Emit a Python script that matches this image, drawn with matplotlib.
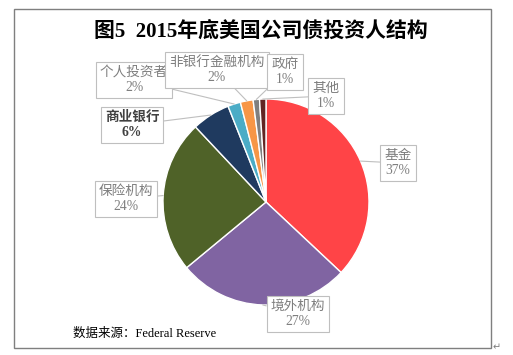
import numpy as np
import matplotlib.pyplot as plt
from matplotlib.patches import Rectangle

plt.rcParams['font.family'] = ['Liberation Serif', 'Noto Sans CJK SC', 'DejaVu Sans']

labels = ['基金', '境外机构', '保险机构', '商业银行', '个人投资者', '非银行金融机构', '政府', '其他']
shares = [37, 27, 24, 6, 2, 2, 1, 1]
colors = ['#FF4447', '#8064A2', '#4F6228', '#1F3A5F', '#4BACC6', '#F79646', '#7F7F7F', '#632523']

# label box centres in pixel coords (origin top-left)
box_pos = [(398, 163), (298, 314), (126, 199), (132, 125),
           (134, 80), (217, 70), (285, 72), (326, 96)]

W, H = 513, 355
fig = plt.figure(figsize=(W / 100, H / 100), dpi=100)
ax = fig.add_axes([0, 0, 1, 1])

cx, cy, r = 266, H - 202, 103
wedges, _ = ax.pie(shares, colors=colors, startangle=90, counterclock=False,
                   center=(cx, cy), radius=r,
                   wedgeprops=dict(edgecolor='white', linewidth=1))
ax.set_xlim(0, W)
ax.set_ylim(0, H)
ax.set_aspect('equal')
ax.axis('off')

for w, lab, val, (bx, by) in zip(wedges, labels, shares, box_pos):
    ang = np.deg2rad((w.theta1 + w.theta2) / 2)
    px, py = cx + r * np.cos(ang), cy + r * np.sin(ang)
    bold = lab == '商业银行'
    ax.annotate(f'{lab}\n{val}%', xy=(px, py), xytext=(bx, H - by),
                ha='center', va='center', fontsize=9.8, linespacing=1.25,
                color='#404040' if bold else '#7F7F7F',
                fontweight='bold' if bold else 'normal',
                bbox=dict(boxstyle='square,pad=0.3', fc='white', ec='#BFBFBF', lw=0.8),
                arrowprops=dict(arrowstyle='-', color='#BFBFBF', lw=0.8,
                                shrinkA=0, shrinkB=0))

ax.text(261, H - 32, '图5  2015年底美国公司债投资人结构', ha='center', va='center',
        fontsize=15, fontweight='bold', color='black')
ax.text(73, H - 334, '数据来源：Federal Reserve', ha='left', va='center',
        fontsize=9, color='black')

ax.add_patch(Rectangle((14, H - 348), 477, 339, fill=False, ec='#7F7F7F', lw=1))
ax.text(497, H - 347, '↵', ha='center', va='center', fontsize=7, color='#7F7F7F',
        family='DejaVu Sans')

fig.savefig('out.png', dpi=100)
